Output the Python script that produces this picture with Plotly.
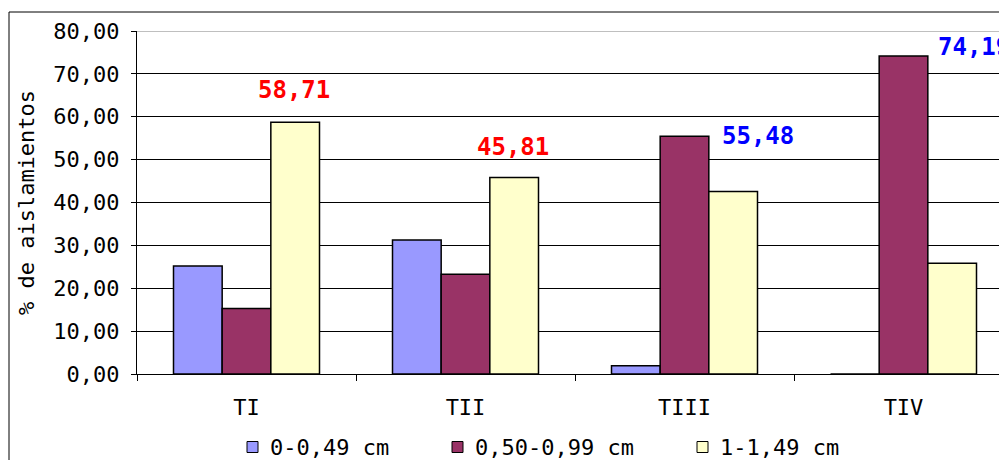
import plotly.graph_objects as go

categories = ["TI", "TII", "TIII", "TIV"]
series_names = ["0-0,49 cm", "0,50-0,99 cm", "1-1,49 cm"]
s1 = [25.2, 31.25, 1.94, 0.0]
s2 = [15.3, 23.25, 55.48, 74.19]
s3 = [58.71, 45.81, 42.58, 25.81]
colors = ["#9999FF", "#993366", "#FFFFCC"]

label_texts = ["58,71", "45,81", "55,48", "74,19"]
label_x = [0.219, 1.217, 2.336, 3.32]
label_y = [66.2, 52.9, 55.5, 76.3]
label_colors = ["#FF0000", "#FF0000", "#0000FF", "#0000FF"]

FONT = "DejaVu Sans Mono"

# page body has an 8px margin; figure is laid out relative to that
OFF = 8
W, H = 1007 - OFF, 460 - OFF
PL, PT, PB = 137, 31, 374          # plot area edges in window pixels
PW = W - (PL - OFF)
PH = PB - PT
CATW = 219.0


def px(X):
    return (X - PL) / PW


def py(Y):
    return (PB - Y) / PH


fig = go.Figure()
for name, vals, col in zip(series_names, [s1, s2, s3], colors):
    fig.add_trace(go.Bar(x=categories, y=vals, name=name, showlegend=False,
                         marker=dict(color=col, line=dict(color="black", width=1.5))))

for t, x, y, c in zip(label_texts, label_x, label_y, label_colors):
    fig.add_annotation(x=x, y=y, xref="x", yref="y", text="<b>%s</b>" % t,
                       showarrow=False, font=dict(family=FONT, size=24, color=c),
                       xanchor="center", yanchor="middle")

# legend drawn manually (square + text)
leg_sq_x = [247, 452, 697]
leg_tx_x = [268, 473, 718]
leg_y = 447
for name, col, sx, tx in zip(series_names, colors, leg_sq_x, leg_tx_x):
    fig.add_shape(type="rect", xref="paper", yref="paper",
                  x0=px(sx), x1=px(sx + 11), y0=py(leg_y + 5.5), y1=py(leg_y - 5.5),
                  fillcolor=col, line=dict(color="black", width=1))
    fig.add_annotation(x=px(tx), y=py(leg_y), xref="paper", yref="paper",
                       text=name, showarrow=False, xanchor="left", yanchor="middle",
                       font=dict(family=FONT, size=22, color="black"))

fig.update_layout(
    width=W, height=H,
    margin=dict(l=PL - OFF, r=0, t=PT - OFF, b=H - (PB - OFF), autoexpand=False),
    paper_bgcolor="white", plot_bgcolor="white",
    barmode="group", bargap=1/3, bargroupgap=0,
    separators=", ",
    font=dict(family=FONT, size=22, color="black"),
    showlegend=False,
    xaxis=dict(range=[-0.5, -0.5 + PW / CATW], tickson="boundaries", ticks="outside",
               ticklen=6, tickcolor="black", showgrid=False, automargin=False,
               showline=True, linecolor="black", linewidth=1,
               tickfont=dict(family=FONT, size=22), ticklabelstandoff=14),
    yaxis=dict(range=[0, 80], dtick=10, tickformat=".2f", ticks="outside",
               ticklen=5, tickcolor="black", showgrid=True, gridcolor="black",
               gridwidth=1, showline=True, linecolor="black", linewidth=1,
               zeroline=False, tickfont=dict(family=FONT, size=22),
               ticklabelstandoff=7, automargin=False,
               title=dict(text="% de aislamientos", standoff=12,
                          font=dict(family=FONT, size=22))),
)
fig.add_shape(type="line", xref="paper", yref="y", x0=0, x1=1, y0=80, y1=80,
              line=dict(color="#808080", width=1))
fig.add_shape(type="rect", xref="paper", yref="paper",
              x0=px(9), x1=1.05, y0=-0.4, y1=py(12),
              line=dict(color="black", width=1), fillcolor="rgba(0,0,0,0)")

fig.write_html("out.html")
